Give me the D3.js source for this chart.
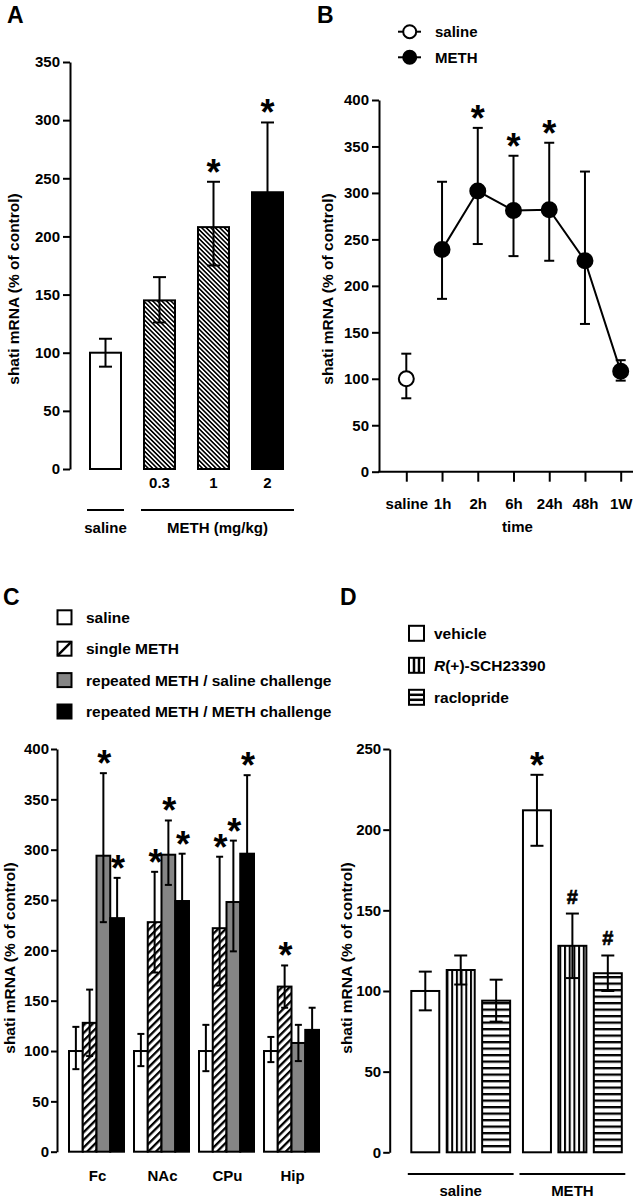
<!DOCTYPE html>
<html><head><meta charset="utf-8">
<script src="https://cdn.jsdelivr.net/npm/d3@7"></script>
<style>
body{margin:0;background:#fff}
svg text{font-family:"Liberation Sans",Arial,Helvetica,sans-serif;font-weight:bold;fill:#000}
</style></head><body>
<svg id="chart" width="636" height="1200"></svg>
<script>
// ---------------- DATA ----------------
// Panel A
const aCategories = ["saline", "0.3", "1", "2"];
const aMeans = [100, 145, 208, 238];
const aErrUp = [12, 20, 39, 60];
const aErrDown = [12, 19, 33, 60];
const aSig = [false, false, true, true];
const aTicks = [0, 50, 100, 150, 200, 250, 300, 350];
const aGroupLabels = ["saline", "METH (mg/kg)"];
const aGroupMembers = [["saline"], ["0.3", "1", "2"]];

// Panel B
const bTimes = ["saline", "1h", "2h", "6h", "24h", "48h", "1W"];
const bMeans = [100, 239, 302, 281, 282, 227, 108];
const bErrUp = [27, 73, 68, 59, 72, 96, 12];
const bErrDown = [21, 53, 57, 49, 55, 68, 10];
const bSig = [false, false, true, true, true, false, false];
const bTicks = [0, 50, 100, 150, 200, 250, 300, 350, 400];
const bLegend = ["saline", "METH"];

// Panel C
const cRegions = ["Fc", "NAc", "CPu", "Hip"];
const cSeries = ["saline", "single METH", "repeated METH / saline challenge", "repeated METH / METH challenge"];
const cSaline = [100, 100, 100, 100];
const cSingle = [128, 228, 222, 164];
const cRepSal = [294, 295, 248, 108];
const cRepMeth = [232, 249, 296, 121];
const cSalineUp = [24, 17, 26, 14];
const cSingleUp = [33, 50, 71, 21];
const cRepSalUp = [82, 34, 61, 18];
const cRepMethUp = [40, 47, 78, 22];
const cSalineDown = [18, 15, 20, 11];
const cSingleDown = [33, 50, 57, 21];
const cRepSalDown = [66, 30, 49, 18];
const cRepMethDown = [40, 47, 78, 22];
const cSingleSig = [false, true, true, true];
const cRepSalSig = [true, true, true, false];
const cRepMethSig = [true, true, true, false];
const cTicks = [0, 50, 100, 150, 200, 250, 300, 350, 400];

// Panel D
const dGroups = ["saline", "METH"];
const dSeries = ["vehicle", "R(+)-SCH23390", "raclopride"];
const dVehicle = [100, 212];
const dSCH = [113, 128];
const dRaclo = [94, 111];
const dVehicleErr = [12, 22];
const dSCHErr = [9, 20];
const dRacloErr = [13, 11];
const dVehicleMark = ["", "*"];
const dSCHMark = ["", "#"];
const dRacloMark = ["", "#"];
const dTicks = [0, 50, 100, 150, 200, 250];

const yTitle = "shati mRNA (% of control)";

// ---------------- HELPERS ----------------
const svg = d3.select("#chart");
const defs = svg.append("defs");

function diagPattern(id, period, w, angle) {
  const p = defs.append("pattern").attr("id", id).attr("patternUnits", "userSpaceOnUse")
    .attr("width", period).attr("height", period).attr("patternTransform", `rotate(${angle})`);
  p.append("rect").attr("width", period).attr("height", period).attr("fill", "#fff");
  p.append("rect").attr("width", w).attr("height", period).attr("fill", "#000");
}
diagPattern("hatchA", 3.2, 1.6, -45);
diagPattern("hatchC", 5.4, 2.3, 45);
diagPattern("vertD", 4.7, 2.0, 0);
(function () {
  const period = 6.5, w = 2.3;
  const p = defs.append("pattern").attr("id", "horzD").attr("patternUnits", "userSpaceOnUse")
    .attr("width", period).attr("height", period).attr("y", 1);
  p.append("rect").attr("width", period).attr("height", period).attr("fill", "#fff");
  p.append("rect").attr("width", period).attr("height", w).attr("fill", "#000");
})();

function yAxis(scale, x, ticks, size, pad) {
  const g = svg.append("g").attr("transform", `translate(${x},0)`)
    .call(d3.axisLeft(scale).tickValues(ticks).tickSize(size).tickPadding(pad).tickSizeOuter(0));
  g.select(".domain").attr("stroke-width", 2);
  g.selectAll(".tick line").attr("stroke-width", 2);
  g.selectAll(".tick text").style("font-size", "15px");
  return g;
}
function yLabel(x, y) {
  svg.append("text").attr("transform", `translate(${x},${y}) rotate(-90)`)
    .attr("text-anchor", "middle").attr("dy", "0.35em").style("font-size", "15.5px").text(yTitle);
}
function errBar(cx, yHi, yLo, cap) {
  const g = svg.append("g").attr("stroke", "#000").attr("stroke-width", 2);
  g.append("line").attr("x1", cx).attr("x2", cx).attr("y1", yHi).attr("y2", yLo);
  g.append("line").attr("x1", cx - cap / 2).attr("x2", cx + cap / 2).attr("y1", yHi).attr("y2", yHi);
  g.append("line").attr("x1", cx - cap / 2).attr("x2", cx + cap / 2).attr("y1", yLo).attr("y2", yLo);
}
function mark(cx, yTop, sym) {
  if (!sym) return;
  if (sym === "*") {
    svg.append("text").attr("x", cx).attr("y", yTop - 17 + 20).attr("text-anchor", "middle")
      .style("font-size", "36px").text("*");
  } else {
    svg.append("text").attr("x", cx).attr("y", yTop - 17 + 7).attr("text-anchor", "middle")
      .style("font-size", "20px").attr("stroke", "#000").attr("stroke-width", 0.6).text(sym);
  }
}
function panelLetter(x, y, t) {
  svg.append("text").attr("x", x).attr("y", y).style("font-size", "23px").text(t);
}
function bar(x, y0, y1, w, fill) {
  svg.append("rect").attr("x", x).attr("y", y1).attr("width", w).attr("height", y0 - y1)
    .attr("fill", fill).attr("stroke", "#000").attr("stroke-width", 2);
}

// ---------------- PANEL A ----------------
panelLetter(7, 22.5, "A");
const ax = d3.scaleBand().domain(aCategories).range([90, 283]).paddingInner(0.426);
const ay = d3.scaleLinear().domain([0, 350]).range([469, 62]);
const aFill = ["#fff", "url(#hatchA)", "url(#hatchA)", "#000"];
yAxis(ay, 70, aTicks, 7, 3);
yLabel(14, 289);
aCategories.forEach((c, i) => {
  bar(ax(c), ay(0), ay(aMeans[i]), ax.bandwidth(), aFill[i]);
  const cx = ax(c) + ax.bandwidth() / 2;
  errBar(cx, ay(aMeans[i] + aErrUp[i]), ay(aMeans[i] - aErrDown[i]), 13);
  if (aSig[i]) mark(cx, ay(aMeans[i] + aErrUp[i]), "*");
  if (i > 0) svg.append("text").attr("x", cx).attr("y", 483).attr("dy", "0.35em")
    .attr("text-anchor", "middle").style("font-size", "15px").text(c);
});
aGroupLabels.forEach((lab, i) => {
  const m = aGroupMembers[i];
  const x1 = ax(m[0]) - 3, x2 = ax(m[m.length - 1]) + ax.bandwidth() + (m.length > 1 ? 11 : 3);
  svg.append("line").attr("x1", x1).attr("x2", x2).attr("y1", 510).attr("y2", 510)
    .attr("stroke", "#000").attr("stroke-width", 2);
  svg.append("text").attr("x", (x1 + x2) / 2).attr("y", 528).attr("dy", "0.35em")
    .attr("text-anchor", "middle").style("font-size", "15px").text(lab);
});

// ---------------- PANEL B ----------------
panelLetter(317, 22.5, "B");
const bx = d3.scalePoint().domain(bTimes).range([406.3, 620.7]);
const by = d3.scaleLinear().domain([0, 400]).range([471.7, 100]);
yAxis(by, 379, bTicks, 7, 3);
yLabel(328, 289);
const bxg = svg.append("g").attr("transform", `translate(0,${by(0)})`)
  .call(d3.axisBottom(bx).tickSize(10).tickPadding(17).tickSizeOuter(0));
bxg.select(".domain").attr("d", "M378,0H633").attr("stroke-width", 2);
bxg.selectAll(".tick line").attr("stroke-width", 2);
bxg.selectAll(".tick text").style("font-size", "15px");
svg.append("text").attr("x", (bx(bTimes[0]) + bx(bTimes[bTimes.length - 1])) / 2 + 4).attr("y", 527)
  .attr("dy", "0.35em").attr("text-anchor", "middle").style("font-size", "15px").text("time");
bTimes.forEach((t, i) => errBar(bx(t), by(bMeans[i] + bErrUp[i]), by(bMeans[i] - bErrDown[i]), 10));
svg.append("path").datum(bTimes.slice(1))
  .attr("d", d3.line().x(t => bx(t)).y(t => by(bMeans[bTimes.indexOf(t)])))
  .attr("fill", "none").attr("stroke", "#000").attr("stroke-width", 2);
bTimes.forEach((t, i) => {
  svg.append("circle").attr("cx", bx(t)).attr("cy", by(bMeans[i])).attr("r", 7.5)
    .attr("fill", i === 0 ? "#fff" : "#000").attr("stroke", "#000").attr("stroke-width", 2);
  if (bSig[i]) mark(bx(t), by(bMeans[i] + bErrUp[i]), "*");
});
bLegend.forEach((lab, i) => {
  const y = 31.7 + i * 25.6;
  svg.append("line").attr("x1", 398).attr("x2", 421).attr("y1", y).attr("y2", y)
    .attr("stroke", "#000").attr("stroke-width", 2);
  svg.append("circle").attr("cx", 409.7).attr("cy", y).attr("r", 6.5)
    .attr("fill", i === 0 ? "#fff" : "#000").attr("stroke", "#000").attr("stroke-width", 2);
  svg.append("text").attr("x", 435).attr("y", y).attr("dy", "0.35em").style("font-size", "15px").text(lab);
});

// ---------------- PANEL C ----------------
panelLetter(3, 605, "C");
const cMeans = [cSaline, cSingle, cRepSal, cRepMeth];
const cUp = [cSalineUp, cSingleUp, cRepSalUp, cRepMethUp];
const cDown = [cSalineDown, cSingleDown, cRepSalDown, cRepMethDown];
const cSig = [cRegions.map(() => false), cSingleSig, cRepSalSig, cRepMethSig];
const cFill = ["#fff", "url(#hatchC)", "#858585", "#000"];
const cx0 = d3.scaleBand().domain(cRegions).range([69, 319]).paddingInner(0.154);
const cx1 = d3.scaleBand().domain(cSeries).range([0, cx0.bandwidth()]);
const cy = d3.scaleLinear().domain([0, 400]).range([1151.7, 749]);
yAxis(cy, 57, cTicks, 6, 2);
yLabel(10, 958);
cRegions.forEach((r, j) => {
  cSeries.forEach((s, k) => {
    const x = cx0(r) + cx1(s);
    bar(x, cy(0), cy(cMeans[k][j]), cx1.bandwidth(), cFill[k]);
  });
  cSeries.forEach((s, k) => {
    const cxm = cx0(r) + cx1(s) + cx1.bandwidth() / 2;
    const top = cy(cMeans[k][j] + cUp[k][j]);
    errBar(cxm, top, cy(cMeans[k][j] - cDown[k][j]), 7);
    if (cSig[k][j]) mark(cxm + 1, top, "*");
  });
  svg.append("text").attr("x", cx0(r) + cx0.bandwidth() / 2 + 1).attr("y", 1176).attr("dy", "0.35em")
    .attr("text-anchor", "middle").style("font-size", "15px").text(r);
});
cSeries.forEach((s, k) => {
  const y = 617.3 + k * 31.4;
  const g = svg.append("g");
  g.append("rect").attr("x", 57.5).attr("y", y - 7).attr("width", 14).attr("height", 14)
    .attr("fill", k === 1 ? "#fff" : cFill[k]).attr("stroke", "#000").attr("stroke-width", 2);
  if (k === 1) g.append("line").attr("x1", 57.5).attr("y1", y + 7).attr("x2", 71.5).attr("y2", y - 7)
    .attr("stroke", "#000").attr("stroke-width", 2.5);
  svg.append("text").attr("x", 86).attr("y", y).attr("dy", "0.35em").style("font-size", "15.5px").text(s);
});

// ---------------- PANEL D ----------------
panelLetter(340, 605, "D");
const dMeans = [dVehicle, dSCH, dRaclo];
const dErr = [dVehicleErr, dSCHErr, dRacloErr];
const dMarks = [dVehicleMark, dSCHMark, dRacloMark];
const dFill = ["#fff", "url(#vertD)", "url(#horzD)"];
const dx0 = d3.scaleBand().domain(dGroups).range([411.3, 621.8]).paddingInner(0.115);
const dx1 = d3.scaleBand().domain(dSeries).range([0, dx0.bandwidth()]).paddingInner(0.21);
const dy = d3.scaleLinear().domain([0, 250]).range([1152.3, 749]);
yAxis(dy, 389.7, dTicks, 6.5, 2);
yLabel(347, 958);
dGroups.forEach((gname, j) => {
  dSeries.forEach((s, k) => {
    const x = dx0(gname) + dx1(s);
    bar(x, dy(0), dy(dMeans[k][j]), dx1.bandwidth(), dFill[k]);
    const cxm = x + dx1.bandwidth() / 2;
    const top = dy(dMeans[k][j] + dErr[k][j]);
    errBar(cxm, top, dy(dMeans[k][j] - dErr[k][j]), 13);
    mark(cxm, top, dMarks[k][j]);
  });
  const x1 = dx0(gname) - 3.5, x2 = dx0(gname) + dx0.bandwidth() + 3.5;
  svg.append("line").attr("x1", x1).attr("x2", x2).attr("y1", 1174).attr("y2", 1174)
    .attr("stroke", "#000").attr("stroke-width", 2);
  svg.append("text").attr("x", (x1 + x2) / 2).attr("y", 1191).attr("dy", "0.35em")
    .attr("text-anchor", "middle").style("font-size", "15px").text(gname);
});
dSeries.forEach((s, k) => {
  const y = 633.3 + k * 32;
  const g = svg.append("g");
  g.append("rect").attr("x", 409).attr("y", y - 7.5).attr("width", 15).attr("height", 15)
    .attr("fill", "#fff").attr("stroke", "#000").attr("stroke-width", 2);
  if (k === 1) [414, 419].forEach(xx => g.append("line").attr("x1", xx).attr("x2", xx)
    .attr("y1", y - 7.5).attr("y2", y + 7.5).attr("stroke", "#000").attr("stroke-width", 2.5));
  if (k === 2) [-2.5, 2.5].forEach(dd => g.append("line").attr("x1", 409).attr("x2", 424)
    .attr("y1", y + dd).attr("y2", y + dd).attr("stroke", "#000").attr("stroke-width", 2.5));
  const t = svg.append("text").attr("x", 434).attr("y", y).attr("dy", "0.35em").style("font-size", "15.5px");
  if (s.startsWith("R(")) {
    t.append("tspan").style("font-style", "italic").text("R");
    t.append("tspan").text(s.slice(1));
  } else t.text(s);
});
</script>
</body></html>
